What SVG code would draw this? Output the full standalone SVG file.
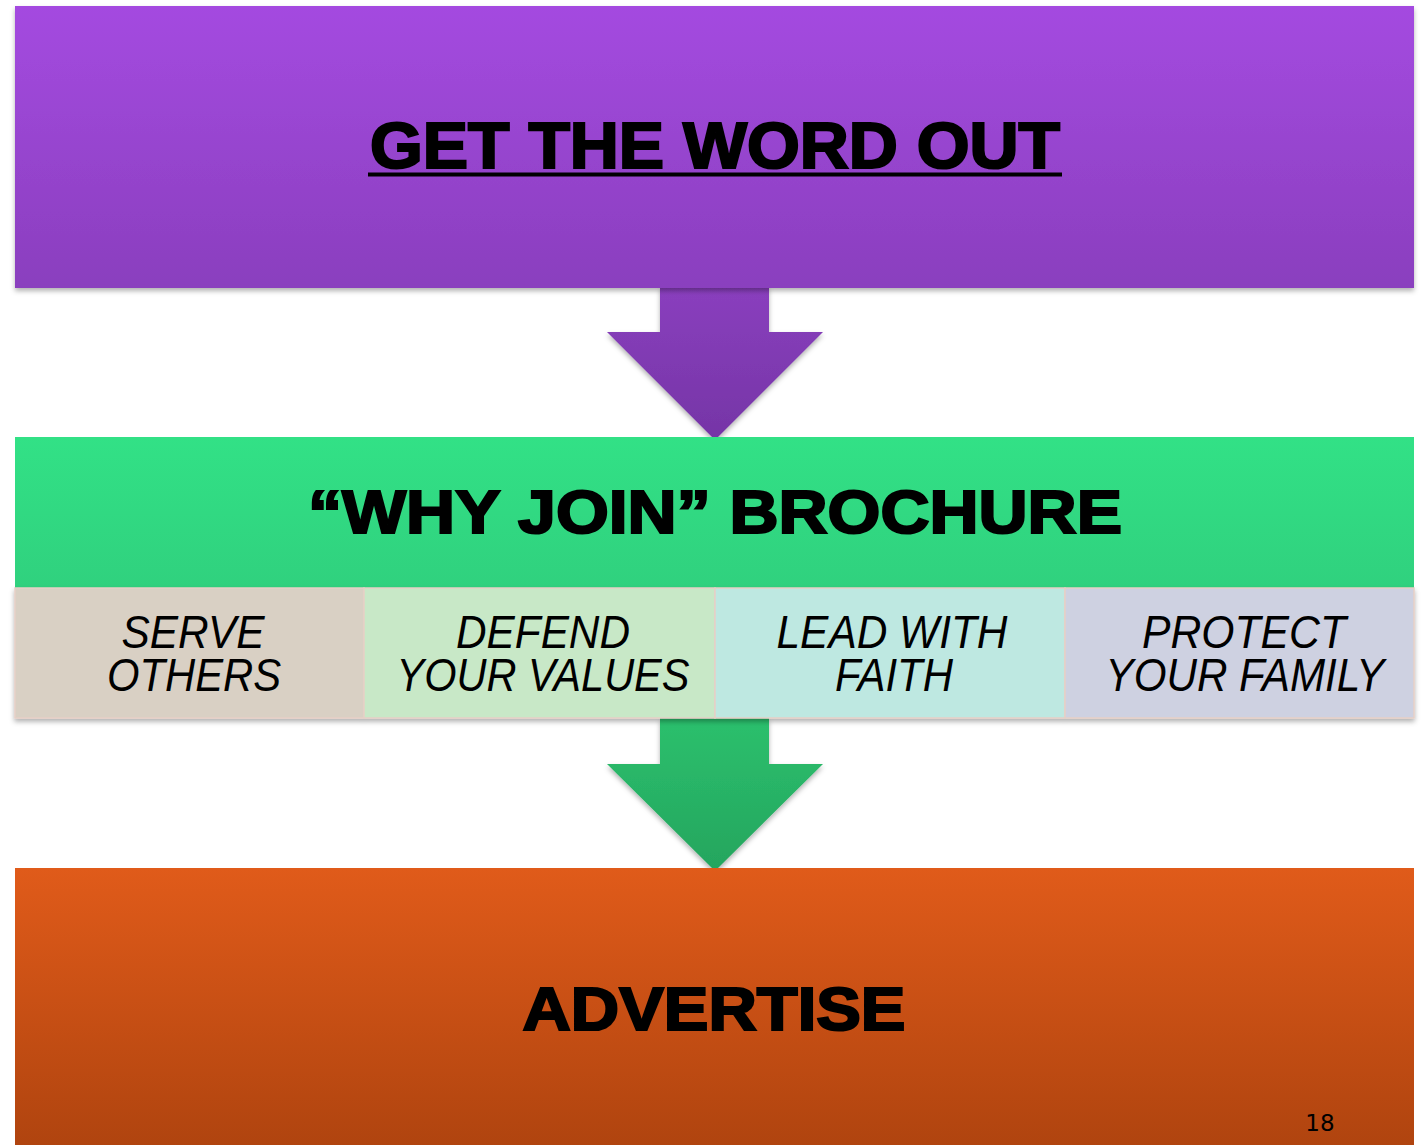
<svg xmlns="http://www.w3.org/2000/svg" width="1427" height="1145" viewBox="0 0 1427 1145">
<defs>
<linearGradient id="gPurple" x1="0" y1="0" x2="0" y2="1"><stop offset="0" stop-color="#A44AE0"/><stop offset="1" stop-color="#8A3FBE"/></linearGradient>
<linearGradient id="gArrow1" x1="0" y1="0" x2="0" y2="1"><stop offset="0" stop-color="#8A3FBE"/><stop offset="1" stop-color="#7535A6"/></linearGradient>
<linearGradient id="gGreen" x1="0" y1="0" x2="0" y2="1"><stop offset="0" stop-color="#32E186"/><stop offset="1" stop-color="#30D17E"/></linearGradient>
<linearGradient id="gArrow2" x1="0" y1="0" x2="0" y2="1"><stop offset="0" stop-color="#2CC06D"/><stop offset="1" stop-color="#24A55E"/></linearGradient>
<linearGradient id="gOrange" x1="0" y1="0" x2="0" y2="1"><stop offset="0" stop-color="#E05B1A"/><stop offset="1" stop-color="#B0440F"/></linearGradient>
<filter id="shadow" x="-5%" y="-5%" width="110%" height="120%"><feDropShadow dx="0" dy="3" stdDeviation="2.5" flood-color="#000" flood-opacity="0.3"/></filter>
</defs>
<style>
.head{font-family:"Liberation Sans",Arial,sans-serif;font-weight:bold;fill:#000;stroke:#000;stroke-width:2.2;text-anchor:middle}
.cell{font-family:"Liberation Sans",Arial,sans-serif;font-style:italic;font-size:46px;fill:#000;text-anchor:middle}
.cellbox{stroke:#E6CFC6;stroke-width:1.5}
</style>
<rect width="1427" height="1145" fill="#FFFFFF"/>
<g id="connectors">
<path d="M660,286 L769,286 L769,332 L823,332 L715,440 L607,332 L660,332 Z" fill="url(#gArrow1)" filter="url(#shadow)"/>
<path d="M660,718 L769,718 L769,764 L823,764 L715,871 L607,764 L660,764 Z" fill="url(#gArrow2)" filter="url(#shadow)"/>
</g>
<g id="node-word-out">
<rect x="15" y="6" width="1399" height="282" fill="url(#gPurple)" filter="url(#shadow)"/>
<text class="head" x="715" y="168" font-size="64" textLength="690" lengthAdjust="spacingAndGlyphs">GET THE WORD OUT</text>
<rect x="368" y="172.5" width="694" height="4" fill="#000"/>
</g>
<g id="node-brochure">
<rect x="15" y="437" width="1399" height="151" fill="url(#gGreen)"/>
<text class="head" x="715" y="533" font-size="62" textLength="814" lengthAdjust="spacingAndGlyphs">“WHY JOIN” BROCHURE</text>
</g>
<g id="node-cells" filter="url(#shadow)">
<rect class="cellbox" x="15" y="588" width="349" height="130" fill="#D9D0C4"/>
<rect class="cellbox" x="364" y="588" width="351" height="130" fill="#C8E8C7"/>
<rect class="cellbox" x="715" y="588" width="350" height="130" fill="#BEE8E1"/>
<rect class="cellbox" x="1065" y="588" width="349" height="130" fill="#CED1E1"/>
</g>
<g id="node-serve">
<text class="cell" x="193" y="648" textLength="143" lengthAdjust="spacingAndGlyphs">SERVE</text>
<text class="cell" x="194" y="691" textLength="174" lengthAdjust="spacingAndGlyphs">OTHERS</text>
</g>
<g id="node-defend">
<text class="cell" x="543" y="648" textLength="174" lengthAdjust="spacingAndGlyphs">DEFEND</text>
<text class="cell" x="543" y="691" textLength="293" lengthAdjust="spacingAndGlyphs">YOUR VALUES</text>
</g>
<g id="node-lead">
<text class="cell" x="892" y="648" textLength="231" lengthAdjust="spacingAndGlyphs">LEAD WITH</text>
<text class="cell" x="894" y="691" textLength="118" lengthAdjust="spacingAndGlyphs">FAITH</text>
</g>
<g id="node-protect">
<text class="cell" x="1244" y="648" textLength="204" lengthAdjust="spacingAndGlyphs">PROTECT</text>
<text class="cell" x="1245" y="691" textLength="279" lengthAdjust="spacingAndGlyphs">YOUR FAMILY</text>
</g>
<g id="node-advertise">
<rect x="15" y="868" width="1399" height="277" fill="url(#gOrange)"/>
<text class="head" x="714" y="1030" font-size="62" textLength="383" lengthAdjust="spacingAndGlyphs">ADVERTISE</text>
<text x="1320" y="1131" font-family="DejaVu Sans, sans-serif" font-size="23" fill="#000" text-anchor="middle">18</text>
</g>
</svg>
